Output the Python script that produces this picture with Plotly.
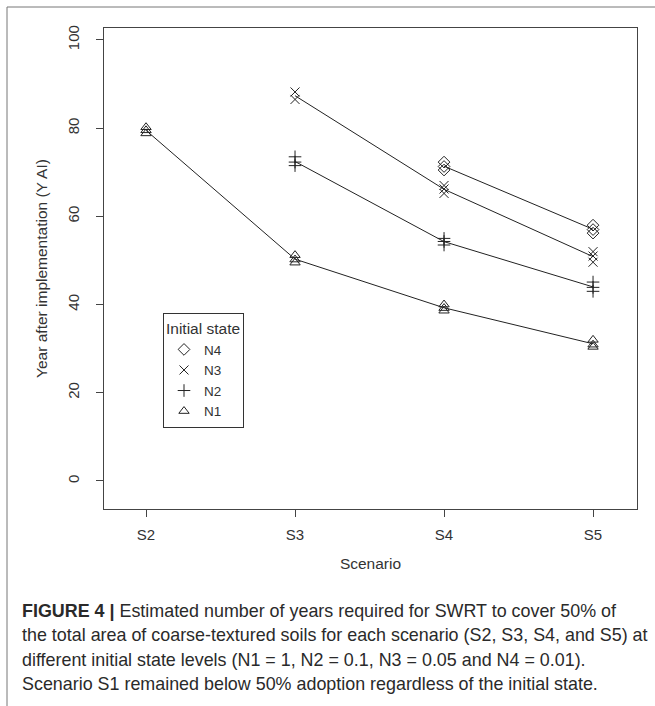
import numpy as np
import plotly.graph_objects as go

# ---- data ----
scenarios = ["S2", "S3", "S4", "S5"]
scen_pos = [1, 2, 3, 4]
y_ticks = [0, 20, 40, 60, 80, 100]

# replicate values per initial state: {scenario_index: [values]}
n1_vals = {1: [78.8, 79.5, 80.2], 2: [49.5, 50.2, 51.2], 3: [38.6, 39.2, 40.0], 4: [30.4, 30.9, 32.0]}
n2_vals = {2: [71.5, 72.3, 73.5], 3: [53.5, 54.3, 55.0], 4: [43.0, 43.9, 45.1]}
n3_vals = {2: [86.5, 88.2], 3: [65.2, 66.2, 67.0], 4: [49.6, 51.0, 52.0]}
n4_vals = {3: [70.5, 71.3, 72.3], 4: [56.2, 57.0, 58.0]}

series = [
    ("N4", n4_vals, "diamond-open"),
    ("N3", n3_vals, "x-thin-open"),
    ("N2", n2_vals, "cross-thin-open"),
    ("N1", n1_vals, "triangle-up-open"),
]

caption_lines = [
    "<b>FIGURE 4 |</b> Estimated number of years required for SWRT to cover 50% of",
    "the total area of coarse-textured soils for each scenario (S2, S3, S4, and S5) at",
    "different initial state levels (N1 = 1, N2 = 0.1, N3 = 0.05 and N4 = 0.01).",
    "Scenario S1 remained below 50% adoption regardless of the initial state.",
]

# ---- layout geometry (pixels) ----
W, H = 655, 706
L, R, T, B = 104, 637, 28, 509
ml, mr, mt, mb = L, W - R, T, H - B
pw, ph = R - L, B - T

def px_x(x):
    return (x - L) / pw

def px_y(y):
    return (B - y) / ph

ink = "#333333"
fam = "Liberation Sans, Arial"
fig = go.Figure()

for name, vals, sym in series:
    xs, ys = [], []
    for k in sorted(vals):
        for v in vals[k]:
            xs.append(k)
            ys.append(v)
    mx = sorted(vals)
    my = [float(np.mean(vals[k])) for k in mx]
    fig.add_trace(go.Scatter(x=mx, y=my, mode="lines", line=dict(color="#222222", width=1),
                             showlegend=False, hoverinfo="skip", legendgroup=name))
    fig.add_trace(go.Scatter(x=xs, y=ys, mode="markers", name=name, legendgroup=name,
                             marker=dict(symbol=sym, size=9, color="#222222",
                                         line=dict(width=1, color="#222222"))))

fig.update_layout(
    width=W, height=H,
    margin=dict(l=ml, r=mr, t=mt, b=mb, pad=0),
    paper_bgcolor="white", plot_bgcolor="white",
    font=dict(family=fam, size=15, color=ink),
    xaxis=dict(range=[0.718, 4.295], tickvals=scen_pos, ticktext=scenarios,
               showgrid=False, zeroline=False, showline=True, mirror=True,
               linecolor="#444444", linewidth=1, ticks="outside", ticklen=7,
               tickcolor="#444444", tickfont=dict(size=15, color=ink),
               ticklabelstandoff=5,
               title=dict(text="Scenario", font=dict(size=15.5, color=ink), standoff=16)),
    yaxis=dict(range=[-6.35, 102.7], tickvals=y_ticks, showgrid=False, zeroline=False,
               showline=True, mirror=True, linecolor="#444444", linewidth=1,
               ticks="outside", ticklen=7, tickcolor="#444444", tickangle=-90,
               tickfont=dict(size=15, color=ink), ticklabelstandoff=11,
               title=dict(text="Year after implementation (Y AI)", font=dict(size=15.5, color=ink),
                          standoff=13)),
    legend=dict(x=px_x(163), y=px_y(313), xanchor="left", yanchor="top",
                bordercolor="#333333", borderwidth=1, bgcolor="white",
                title=dict(text="Initial state", font=dict(size=15.5, color=ink)),
                font=dict(size=13.5, color=ink), tracegroupgap=0, itemwidth=30),
    showlegend=True,
)

# outer figure frame
fig.add_shape(type="rect", xref="paper", yref="paper",
              x0=px_x(7), x1=px_x(660), y0=px_y(712), y1=px_y(7),
              line=dict(color="#777777", width=1), fillcolor="rgba(0,0,0,0)", layer="below")

# caption
for i, txt in enumerate(caption_lines):
    fig.add_annotation(xref="paper", yref="paper", x=px_x(20), y=px_y(611 + i * 24.3),
                       xanchor="left", yanchor="middle", showarrow=False, align="left",
                       text=txt, font=dict(family=fam, size=17.9, color="#2a2a2a"))

fig.write_html("out.html")
